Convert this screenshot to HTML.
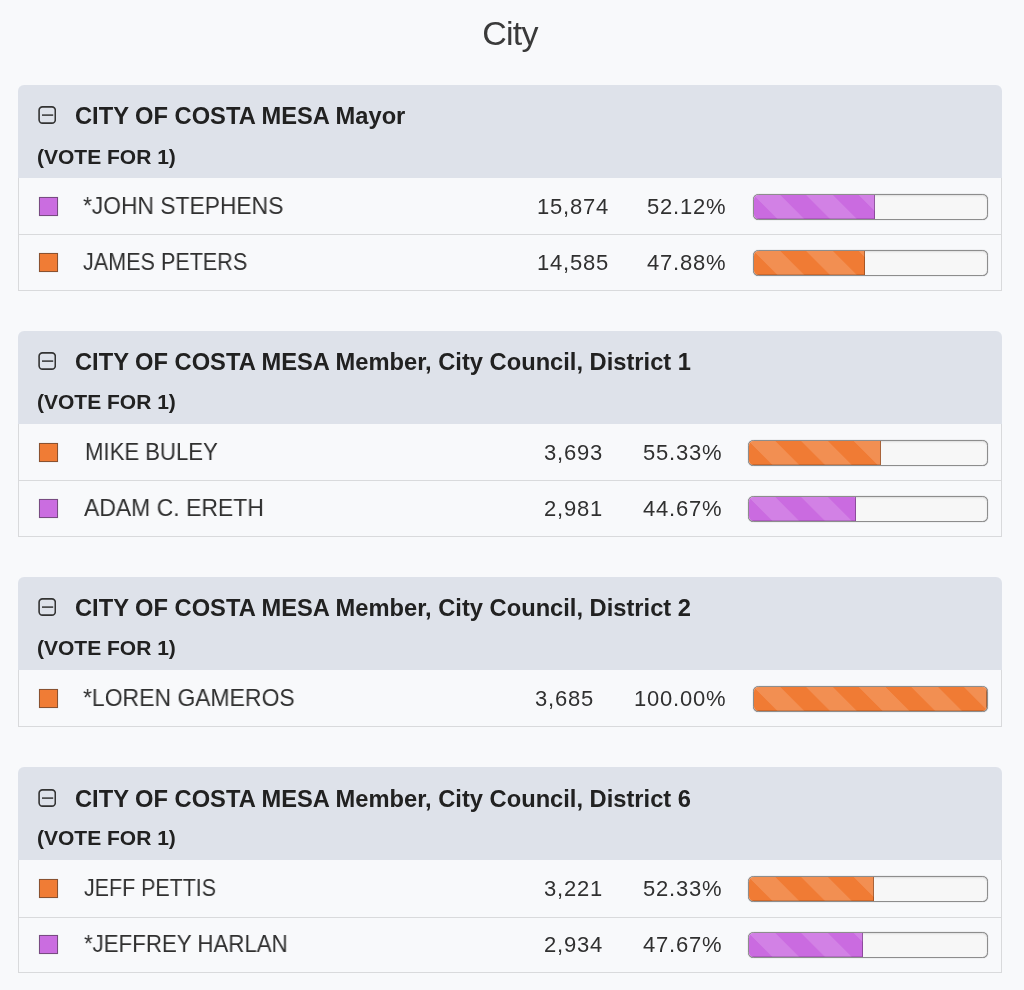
<!DOCTYPE html>
<html><head><meta charset="utf-8"><title>City</title><style>
html,body{margin:0;padding:0}
body{width:1024px;height:990px;overflow:hidden;background:#f8f9fb;font-family:"Liberation Sans",sans-serif;color:#333;position:relative}
.title{position:absolute;left:0;width:1024px;top:13px;text-align:center;font-size:34px;line-height:40px;color:#3a3a3a;text-indent:-4px;letter-spacing:-0.8px}
.card{position:absolute;left:18px;width:984px}
.body{position:absolute;left:0;top:0;width:984px;box-sizing:border-box;border:1px solid #d9dadc;background:#f8f9fb}
.sep{position:absolute;left:0;top:149px;width:984px;height:1px;background:#d9dadc}
.hd{position:absolute;left:0;top:0;width:984px;height:92.5px;background:#dee2ea;border-radius:6px 6px 0 0}
.ic{position:absolute;left:19.6px;top:21px;width:18.4px;height:18px}
.t1{position:absolute;left:57.3px;top:16px;font-weight:bold;font-size:23.7px;line-height:30px;color:#212121;white-space:nowrap}
.t2{position:absolute;left:19.1px;top:57px;font-weight:bold;font-size:21px;line-height:30px;color:#212121;white-space:nowrap}
.sw{position:absolute;left:21px;width:19px;height:19px;box-sizing:border-box;border:1px solid rgba(45,45,45,.52);box-shadow:0 0 .7px rgba(0,0,0,.45)}
.sw.p{background:#ca6de0}
.sw.o{background:#f07c35}
.nm,.num{position:absolute;line-height:30px;white-space:nowrap;color:#303030}
.nm{font-size:24px;transform-origin:0 50%}
.num{font-size:22px;letter-spacing:.8px;margin-right:-.8px;margin-top:1px}
.bar{position:absolute;height:26px;box-sizing:border-box;border:1px solid #8d8d8d;border-radius:5.5px;background:#f7f7f7;overflow:hidden;box-shadow:0 0 0.8px rgba(0,0,0,.55),inset 0 1px 2px rgba(0,0,0,.1)}
.fill{position:absolute;left:0;top:0;height:100%;box-sizing:border-box;border-right:1px solid rgba(0,0,0,.3);background-size:52.6px 52.6px;background-image:linear-gradient(45deg,rgba(255,255,255,.15) 25%,transparent 25%,transparent 50%,rgba(255,255,255,.15) 50%,rgba(255,255,255,.15) 75%,transparent 75%,transparent);box-shadow:inset 0 -1px 0 rgba(0,0,0,.15)}
.fill.p{background-color:#ca6be0}
.fill.o{background-color:#f07b34}

.title,.t1,.t2,.nm,.num{will-change:transform}

</style></head><body>
<div class="title">City</div>
<div class="card" style="top:85px;height:206px">
<div class="body" style="top:90px;height:116px"></div>
<div class="sep" style="top:149px"></div>
<div class="hd" style="height:92.5px"><svg style="top:21px" class="ic" viewBox="0 0 18 18"><rect x="0.9" y="0.9" width="16.2" height="16.2" rx="3.4" ry="3.4" fill="none" stroke="#333" stroke-width="1.6"/><path d="M3.8 9.1H15" stroke="#333" stroke-width="1.5" fill="none"/></svg><div class="t1" style="top:16px">CITY OF COSTA MESA Mayor</div><div class="t2" style="top:57px">(VOTE FOR 1)</div></div>
<span class="sw p" style="top:112px"></span>
<span class="nm" style="left:64.9px;top:106px;transform:scaleX(0.9511)">*JOHN STEPHENS</span>
<span class="num" style="right:393.4px;top:106px">15,874</span>
<span class="num" style="right:276.3px;top:106px">52.12%</span>
<span class="bar" style="left:734.5px;width:235.7px;top:109px"><span class="fill p" style="width:52.12%"></span></span>
<span class="sw o" style="top:168px"></span>
<span class="nm" style="left:64.9px;top:162px;transform:scaleX(0.8990)">JAMES PETERS</span>
<span class="num" style="right:393.4px;top:162px">14,585</span>
<span class="num" style="right:276.3px;top:162px">47.88%</span>
<span class="bar" style="left:734.5px;width:235.7px;top:165px"><span class="fill o" style="width:47.88%"></span></span>
</div>
<div class="card" style="top:331px;height:206px">
<div class="body" style="top:90px;height:116px"></div>
<div class="sep" style="top:149px"></div>
<div class="hd" style="height:92.5px"><svg style="top:21px" class="ic" viewBox="0 0 18 18"><rect x="0.9" y="0.9" width="16.2" height="16.2" rx="3.4" ry="3.4" fill="none" stroke="#333" stroke-width="1.6"/><path d="M3.8 9.1H15" stroke="#333" stroke-width="1.5" fill="none"/></svg><div class="t1" style="top:16px">CITY OF COSTA MESA Member, City Council, District 1</div><div class="t2" style="top:56px">(VOTE FOR 1)</div></div>
<span class="sw o" style="top:112px"></span>
<span class="nm" style="left:66.6px;top:106px;transform:scaleX(0.9221)">MIKE BULEY</span>
<span class="num" style="right:400.0px;top:106px">3,693</span>
<span class="num" style="right:280.3px;top:106px">55.33%</span>
<span class="bar" style="left:730.4px;width:239.8px;top:109px"><span class="fill o" style="width:55.33%"></span></span>
<span class="sw p" style="top:168px"></span>
<span class="nm" style="left:65.8px;top:162px;transform:scaleX(0.9564)">ADAM C. ERETH</span>
<span class="num" style="right:400.0px;top:162px">2,981</span>
<span class="num" style="right:280.3px;top:162px">44.67%</span>
<span class="bar" style="left:730.4px;width:239.8px;top:165px"><span class="fill p" style="width:44.67%"></span></span>
</div>
<div class="card" style="top:577px;height:150px">
<div class="body" style="top:90px;height:60px"></div>
<div class="hd" style="height:92.5px"><svg style="top:21px" class="ic" viewBox="0 0 18 18"><rect x="0.9" y="0.9" width="16.2" height="16.2" rx="3.4" ry="3.4" fill="none" stroke="#333" stroke-width="1.6"/><path d="M3.8 9.1H15" stroke="#333" stroke-width="1.5" fill="none"/></svg><div class="t1" style="top:16px">CITY OF COSTA MESA Member, City Council, District 2</div><div class="t2" style="top:56px">(VOTE FOR 1)</div></div>
<span class="sw o" style="top:112px"></span>
<span class="nm" style="left:64.9px;top:106px;transform:scaleX(0.9565)">*LOREN GAMEROS</span>
<span class="num" style="right:408.6px;top:106px">3,685</span>
<span class="num" style="right:276.3px;top:106px">100.00%</span>
<span class="bar" style="left:734.5px;width:235.7px;top:109px"><span class="fill o" style="width:100%"></span></span>
</div>
<div class="card" style="top:767px;height:206px">
<div class="body" style="top:90px;height:116px"></div>
<div class="sep" style="top:150px"></div>
<div class="hd" style="height:93px"><svg style="top:22px" class="ic" viewBox="0 0 18 18"><rect x="0.9" y="0.9" width="16.2" height="16.2" rx="3.4" ry="3.4" fill="none" stroke="#333" stroke-width="1.6"/><path d="M3.8 9.1H15" stroke="#333" stroke-width="1.5" fill="none"/></svg><div class="t1" style="top:17px">CITY OF COSTA MESA Member, City Council, District 6</div><div class="t2" style="top:56px">(VOTE FOR 1)</div></div>
<span class="sw o" style="top:112px"></span>
<span class="nm" style="left:65.8px;top:106px;transform:scaleX(0.8920)">JEFF PETTIS</span>
<span class="num" style="right:400.0px;top:106px">3,221</span>
<span class="num" style="right:280.3px;top:106px">52.33%</span>
<span class="bar" style="left:730.4px;width:239.8px;top:109px"><span class="fill o" style="width:52.33%"></span></span>
<span class="sw p" style="top:168px"></span>
<span class="nm" style="left:65.8px;top:162px;transform:scaleX(0.9276)">*JEFFREY HARLAN</span>
<span class="num" style="right:400.0px;top:162px">2,934</span>
<span class="num" style="right:280.3px;top:162px">47.67%</span>
<span class="bar" style="left:730.4px;width:239.8px;top:165px"><span class="fill p" style="width:47.67%"></span></span>
</div>
</body></html>
